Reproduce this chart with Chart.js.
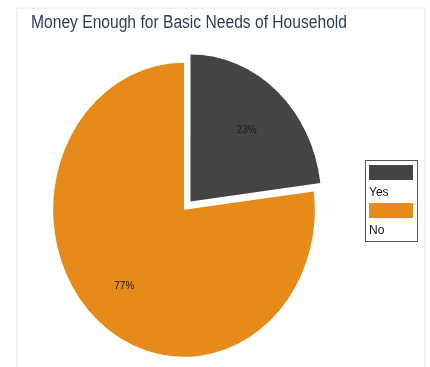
<!DOCTYPE html>
<html>
<head>
<meta charset="utf-8">
<title>Money Enough for Basic Needs of Household</title>
<script src="https://cdn.jsdelivr.net/npm/chart.js@4/dist/chart.umd.min.js"></script>
<style>
  html, body { margin: 0; padding: 0; background: #fff; overflow: hidden; }
  .panel {
    position: absolute; left: 16px; top: 7px; width: 406px; height: 400px;
    border: 2px solid #edf2f2; border-bottom: none;
  }
  #pie { position: absolute; left: 0; top: 0; }
</style>
</head>
<body>
<div class="panel"></div>
<canvas id="pie" width="430" height="367"></canvas>
<script>
// ── Data ─────────────────────────────────────────────
const answers  = ['Yes', 'No'];
const shares   = [23, 77];
const colours  = ['#444444', '#e68b1a'];
const explode  = [44, 0];   // arc offset is drawn at a quarter of this value

const FONT = '"Liberation Sans", Arial, Helvetica, sans-serif';
const SQUASH_X = 0.89;   // pie is drawn a little narrower than tall
const PIE_CX = 184;      // pie sits left of the chart-area centre, legend on the right

// move the pie left and squash it horizontally around its centre
const squashPie = {
  id: 'squashPie',
  beforeDatasetsDraw(chart) {
    const arc = chart.getDatasetMeta(0).data[1];
    const ctx = chart.ctx;
    ctx.save();
    ctx.translate(PIE_CX, 0);
    ctx.scale(SQUASH_X, 1);
    ctx.translate(-arc.x, 0);
  },
  afterDatasetsDraw(chart) {
    chart.ctx.restore();
  }
};

// percentage labels inside the slices + boxed legend on the right
const pieExtras = {
  id: 'pieExtras',
  afterDraw(chart) {
    const ctx = chart.ctx;
    const meta = chart.getDatasetMeta(0);
    const cx = meta.data[1].x;
    const total = shares.reduce((s, v) => s + v, 0);
    const ratio = [0.65, 0.69];

    ctx.save();
    ctx.font = '10px ' + FONT;
    ctx.fillStyle = '#1a1a1a';
    ctx.textAlign = 'center';
    ctx.textBaseline = 'middle';
    meta.data.forEach((arc, i) => {
      const p = arc.getProps(['x', 'y', 'startAngle', 'endAngle', 'outerRadius']);
      const mid = (p.startAngle + p.endAngle) / 2;
      const shift = explode[i] / 4;
      const r = p.outerRadius * ratio[i] + shift;
      const x = PIE_CX + (p.x + Math.cos(mid) * r - cx) * SQUASH_X;
      const y = p.y + Math.sin(mid) * r;
      ctx.fillText(Math.round(shares[i] / total * 100) + '%', x, y);
    });

    // legend
    ctx.strokeStyle = '#555';
    ctx.lineWidth = 1;
    ctx.strokeRect(365.5, 160.5, 52, 81);
    ctx.font = '12px ' + FONT;
    ctx.textAlign = 'left';
    chart.data.labels.forEach((label, i) => {
      const top = 165 + i * 38;
      ctx.fillStyle = chart.data.datasets[0].backgroundColor[i];
      ctx.fillRect(369, top, 44, 15);
      ctx.fillStyle = '#111';
      ctx.fillText(label, 369, top + 28);
    });
    ctx.restore();
  }
};

new Chart(document.getElementById('pie'), {
  type: 'pie',
  data: {
    labels: answers,
    datasets: [{
      data: shares,
      backgroundColor: colours,
      borderWidth: 0,
      offset: explode,
      hoverOffset: 0,
      radius: 147
    }]
  },
  options: {
    responsive: false,
    devicePixelRatio: 1,
    animation: false,
    // right padding narrows the title box so the title text is fitted to it
    layout: { padding: { left: 31, right: 83, top: 0, bottom: 0 } },
    plugins: {
      legend: { display: false },
      tooltip: { enabled: false },
      title: {
        display: true,
        text: 'Money Enough for Basic Needs of Household',
        align: 'start',
        color: '#2d3b5e',
        font: { family: FONT, size: 18, weight: 'normal' },
        padding: { top: 12, bottom: 19 }
      }
    }
  },
  plugins: [squashPie, pieExtras]
});
</script>
</body>
</html>
